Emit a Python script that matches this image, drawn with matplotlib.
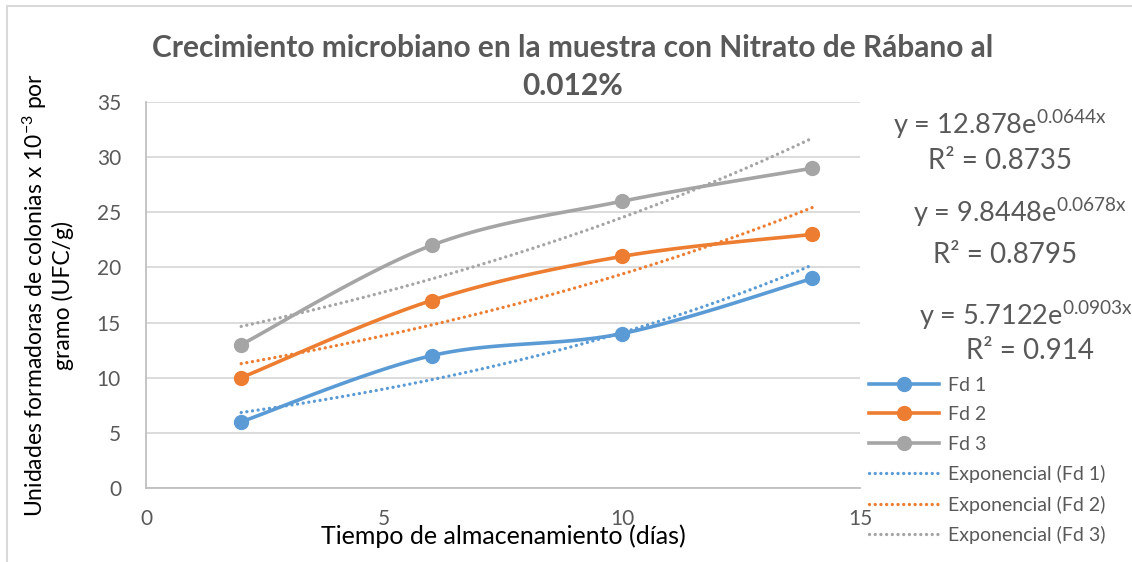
import matplotlib; matplotlib.use("Agg")
import matplotlib.pyplot as plt
import matplotlib.patches as patches
import numpy as np

plt.rcParams["font.family"] = ["Lato", "DejaVu Sans"]
plt.rcParams["mathtext.fontset"] = "custom"
plt.rcParams["mathtext.rm"] = "Lato"
plt.rcParams["mathtext.default"] = "regular"

dias = [2, 6, 10, 14]
fd1 = [6, 12, 14, 19]
fd2 = [10, 17, 21, 23]
fd3 = [13, 22, 26, 29]
series_names = ["Fd 1", "Fd 2", "Fd 3"]
# exponential trend coefficients (a, b) shown on the chart: y = a*e^(b*x)
trend_a = [5.7122, 9.8448, 12.878]
trend_b = [0.0903, 0.0678, 0.0644]
r2 = ["0.914", "0.8795", "0.8735"]
colors = ["#5b9bd5", "#ed7d31", "#a5a5a5"]


def smooth(x, y, n=30):
    # Catmull-Rom style bezier smoothing (like Excel smoothed lines)
    x = np.asarray(x, float); y = np.asarray(y, float)
    px = np.concatenate([[x[0]], x, [x[-1]]])
    py = np.concatenate([[y[0]], y, [y[-1]]])
    xs, ys = [], []
    t = np.linspace(0, 1, n)
    for i in range(1, len(px) - 2):
        p0 = np.array([px[i], py[i]])
        p3 = np.array([px[i + 1], py[i + 1]])
        c1 = p0 + (np.array([px[i + 1], py[i + 1]]) - np.array([px[i - 1], py[i - 1]])) / 6
        c2 = p3 - (np.array([px[i + 2], py[i + 2]]) - np.array([px[i], py[i]])) / 6
        b = ((1 - t) ** 3)[:, None] * p0 + (3 * (1 - t) ** 2 * t)[:, None] * c1 \
            + (3 * (1 - t) * t ** 2)[:, None] * c2 + (t ** 3)[:, None] * p3
        xs.extend(b[:, 0]); ys.extend(b[:, 1])
    return xs, ys


fig = plt.figure(figsize=(11.32, 5.62), dpi=100)
fig.patches.append(patches.Rectangle((7 / 1132, -0.1), 1.2, 1 - 6 / 562 + 0.1, transform=fig.transFigure,
                                     fill=False, edgecolor="#d9d9d9", linewidth=1.5))
ax = fig.add_axes([146 / 1132, 1 - 488 / 562, (860 - 146) / 1132, (488 - 102) / 562])

handles = []
for name, ys, c in zip(series_names, [fd1, fd2, fd3], colors):
    sx, sy = smooth(dias, ys)
    ax.plot(sx, sy, color=c, lw=2.6, solid_capstyle="round", zorder=3)
    ax.plot(dias, ys, "o", color=c, ms=10, zorder=4)
    h, = ax.plot([], [], color=c, lw=2.6, marker="o", ms=10, label=name)
    handles.append(h)

xt = np.linspace(dias[0], dias[-1], 200)
for name, a, b, c in zip(series_names, trend_a, trend_b, colors):
    h, = ax.plot(xt, a * np.exp(b * xt), color=c, lw=2.4, linestyle=(0, (0.01, 1.7)),
                 dash_capstyle="round", zorder=2, label="Exponencial (%s)" % name)
    handles.append(h)

ax.set_xlim(0, 15)
ax.set_ylim(0, 35)
ax.set_xticks([0, 5, 10, 15])
ax.set_yticks(range(0, 36, 5))
ax.grid(axis="y", color="#d9d9d9", lw=1.3)
ax.set_axisbelow(True)
for s in ["top", "right"]:
    ax.spines[s].set_visible(False)
ax.spines["left"].set_color("#bfbfbf")
ax.spines["bottom"].set_color("#bfbfbf")
ax.spines["left"].set_linewidth(1.3)
ax.spines["bottom"].set_linewidth(1.3)
ax.tick_params(axis="both", length=0, labelsize=15, labelcolor="#595959")
ax.tick_params(axis="y", pad=18)
ax.tick_params(axis="x", pad=15)

ax.set_xlabel("Tiempo de almacenamiento (días)", fontsize=18, color="black", labelpad=-3)
fig.text(47 / 1132, 1 - 295 / 562, "Unidades formadoras de colonias x 10$^{-3}$ por\ngramo (UFC/g)",
         rotation=90, ha="center", va="center", fontsize=16.5, linespacing=1.15)

fig.text(573 / 1132, 1 - 67 / 562, "Crecimiento microbiano en la muestra con Nitrato de Rábano al\n0.012%",
         ha="center", va="center", fontsize=21.5, fontweight="bold", color="#595959", linespacing=1.45)

eq_pos = [(1026, 316, 1030, 351), (1020, 213, 1005, 255), (1000, 125, 1000, 161)]
for a, b, rr, (ex, ey, rx, ry) in zip(trend_a, trend_b, r2, eq_pos):
    fig.text(ex / 1132, 1 - ey / 562, "y = %se$^{%sx}$" % (a, b), ha="center", va="center",
             fontsize=19.5, color="#595959")
    fig.text(rx / 1132, 1 - ry / 562, "R² = %s" % rr, ha="center", va="center",
             fontsize=20, color="#595959")

fig.legend(handles=handles, loc="upper left", bbox_to_anchor=(861 / 1132, 1 - 369 / 562),
           frameon=False, fontsize=14, labelcolor="#595959", handlelength=3.6,
           handletextpad=0.45, labelspacing=0.64, borderaxespad=0)

plt.savefig("out.png", dpi=100)
